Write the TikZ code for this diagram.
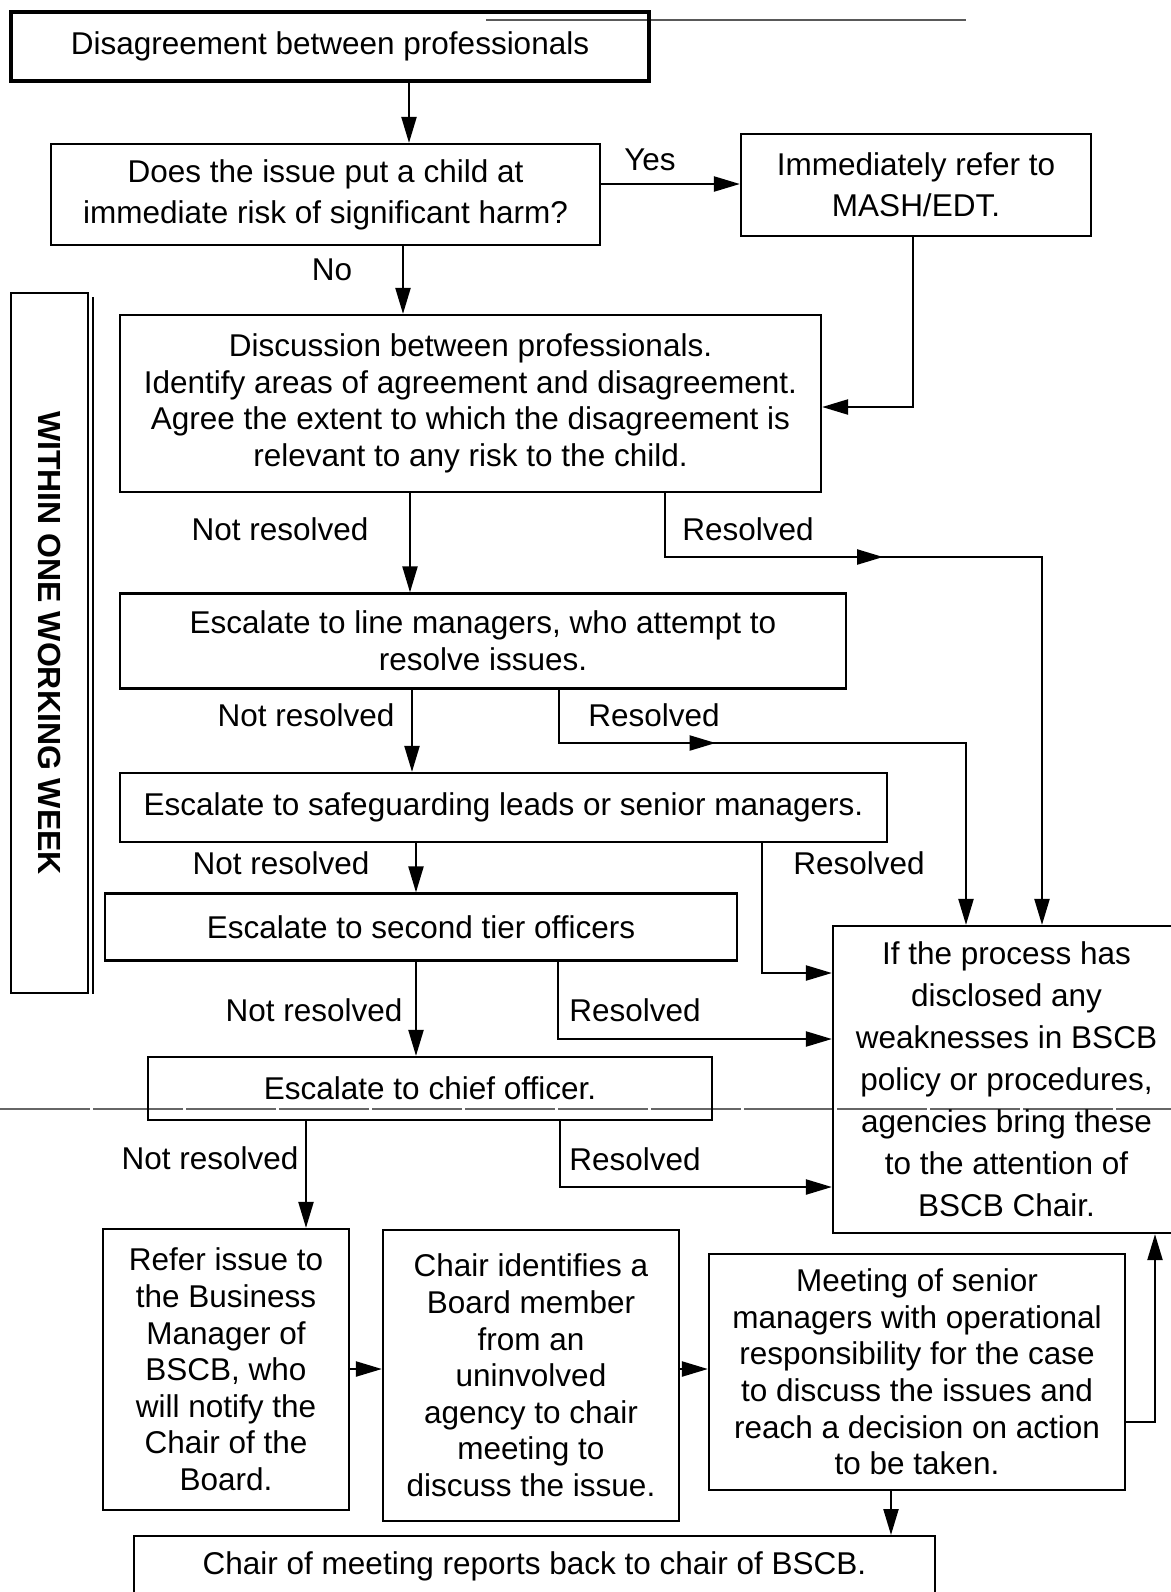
\documentclass[tikz,border=0pt]{standalone}
\usepackage{fontspec}
\setmainfont{Liberation Sans}
\usetikzlibrary{arrows.meta,decorations.markings}
\begin{document}
\begin{tikzpicture}[x=0.5pt,y=-0.5pt,
  box/.style={draw, line width=1.1pt, inner sep=0pt, align=center, font=\fontsize{15.75pt}{18.3pt}\selectfont},
  wide/.style={font=\fontsize{15.75pt}{20.6pt}\selectfont},
  wider/.style={font=\fontsize{15.75pt}{21pt}\selectfont},
  arr/.style={line width=1.1pt, -{Triangle[length=13pt,width=7.5pt]}},
  lbl/.style={inner sep=0pt, font=\fontsize{15.75pt}{18.3pt}\selectfont},
  midarrow/.style={postaction={decorate}, decoration={markings, mark=at position #1 with {\arrow{Triangle[length=13pt,width=7.5pt]}}}},
]
\useasboundingbox (0,0) rectangle (1171,1592);

% scan marks
\draw[black!65, line width=0.8pt] (486,20) -- (966,20);
\draw[black!60, line width=0.8pt, dash pattern=on 45pt off 1.5pt] (0,1109) -- (1171,1109);

% boxes
\node[box, line width=1.8pt, minimum width=319pt, minimum height=34.5pt] (b1) at (330,46.5) {Disagreement between professionals};
\node[box, wide, minimum width=274.5pt, minimum height=50.5pt] (b2) at (325.5,194.5) {Does the issue put a child at\\immediate risk of significant harm?};
\node[box, wide, minimum width=175pt, minimum height=51pt] (b3) at (916,185) {Immediately refer to\\MASH/EDT.};
\node[box, minimum width=350.5pt, minimum height=88.5pt] (b4) at (470.5,403.5) {Discussion between professionals.\\Identify areas of agreement and disagreement.\\Agree the extent to which the disagreement is\\relevant to any risk to the child.};
\node[box, minimum width=363pt, minimum height=47.5pt] (b5) at (483,641) {Escalate to line managers, who attempt to\\resolve issues.};
\node[box, minimum width=383.5pt, minimum height=34.5pt] (b6) at (503.5,807.5) {Escalate to safeguarding leads or senior managers.};
\node[box, minimum width=316pt, minimum height=33.5pt] (b8) at (421,927) {Escalate to second tier officers};
\node[box, minimum width=282pt, minimum height=31.5pt] (b9) at (430,1088.5) {Escalate to chief officer.};
\node[box, wider, minimum width=173.5pt, minimum height=153.5pt] (b7) at (1006.5,1079.5) {If the process has\\disclosed any\\weaknesses in BSCB\\policy or procedures,\\agencies bring these\\to the attention of\\BSCB Chair.};
\node[box, minimum width=123pt, minimum height=140.5pt] (b10) at (226,1369.5) {Refer issue to\\the Business\\Manager of\\BSCB, who\\will notify the\\Chair of the\\Board.};
\node[box, minimum width=148pt, minimum height=145.5pt] (b11) at (531,1375.5) {Chair identifies a\\Board member\\from an\\uninvolved\\agency to chair\\meeting to\\discuss the issue.};
\node[box, minimum width=208pt, minimum height=118pt] (b12) at (917,1372) {Meeting of senior\\managers with operational\\responsibility for the case\\to discuss the issues and\\reach a decision on action\\to be taken.};
\node[box, anchor=north, minimum width=400.5pt, minimum height=30pt] (b13) at (534.5,1535) {Chair of meeting reports back to chair of BSCB.};

% side box
\node[draw, line width=1.2pt, rotate=-90, minimum width=350pt, minimum height=38.5pt, inner sep=0pt, font=\bfseries\fontsize{16pt}{18pt}\selectfont] (wk) at (49.5,643) {WITHIN ONE WORKING WEEK};
\draw[line width=0.7pt] (93,297) -- (93,994);

% labels
\node[lbl] (yes) at (650,160) {Yes};
\node[lbl] (no) at (332,270) {No};
\node[lbl] (nr1) at (280,529) {Not resolved};
\node[lbl] (r1) at (748,529) {Resolved};
\node[lbl] (nr2) at (306,715) {Not resolved};
\node[lbl] (r2) at (654,715) {Resolved};
\node[lbl] (nr3) at (281,863) {Not resolved};
\node[lbl] (r3) at (859,863) {Resolved};
\node[lbl] (nr4) at (314,1010) {Not resolved};
\node[lbl] (r4) at (635,1010) {Resolved};
\node[lbl] (nr5) at (210,1158) {Not resolved};
\node[lbl] (r5) at (635,1159) {Resolved};

% helper coordinates
\coordinate (cx1) at (409,0);
\coordinate (cx2) at (403,0);
\coordinate (cx3) at (913,0);
\coordinate (cx4) at (410,0);
\coordinate (cx5) at (665,0);
\coordinate (cx6) at (412,0);
\coordinate (cx7) at (559,0);
\coordinate (cx8) at (416,0);
\coordinate (cx9) at (762,0);
\coordinate (cx10) at (558,0);
\coordinate (cx11) at (306,0);
\coordinate (cx12) at (560,0);
\coordinate (cx13) at (1155,0);
\coordinate (cx14) at (891,0);
\coordinate (cy1) at (0,184);
\coordinate (cy2) at (0,407);
\coordinate (cy3) at (0,973);
\coordinate (cy4) at (0,1039);
\coordinate (cy5) at (0,1187);
\coordinate (cy6) at (0,1369);
\coordinate (cy7) at (0,1422);
\coordinate (cc1) at (1042,557);
\coordinate (cc2) at (966,743);

% connectors
\draw[arr] (b1.south -| cx1) -- (b2.north -| cx1);
\draw[arr] (b2.east |- cy1) -- (b3.west |- cy1);
\draw[arr] (b2.south -| cx2) -- (b4.north -| cx2);
\draw[arr] (b3.south -| cx3) |- (b4.east |- cy2);
\draw[arr] (b4.south -| cx4) -- (b5.north -| cx4);
\draw[arr, midarrow=141pt] (b4.south -| cx5) |- (cc1) -- (b7.north -| cc1);
\draw[arr] (b5.south -| cx6) -- (b6.north -| cx6);
\draw[arr, midarrow=105pt] (b5.south -| cx7) |- (cc2) -- (b7.north -| cc2);
\draw[arr] (b6.south -| cx8) -- (b8.north -| cx8);
\draw[arr] (b6.south -| cx9) |- (b7.west |- cy3);
\draw[arr] (b8.south -| cx8) -- (b9.north -| cx8);
\draw[arr] (b8.south -| cx10) |- (b7.west |- cy4);
\draw[arr] (b9.south -| cx11) -- (b10.north -| cx11);
\draw[arr] (b9.south -| cx12) |- (b7.west |- cy5);
\draw[arr] (b10.east |- cy6) -- (b11.west |- cy6);
\draw[arr] (b11.east |- cy6) -- (b12.west |- cy6);
\draw[arr] (b12.east |- cy7) -| (b7.south -| cx13);
\draw[arr] (b12.south -| cx14) -- (b13.north -| cx14);
\end{tikzpicture}
\end{document}
